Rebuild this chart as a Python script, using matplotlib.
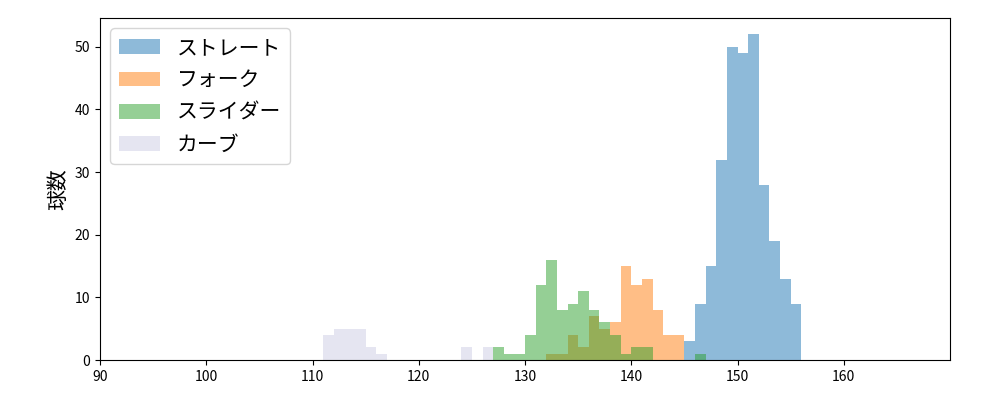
import matplotlib
matplotlib.use("Agg")
import matplotlib.pyplot as plt
import numpy as np

plt.rcParams['font.family'] = ['Noto Sans CJK JP', 'DejaVu Sans']

labels = ['ストレート', 'フォーク', 'スライダー', 'カーブ']
colors = ['#1f77b4', '#ff7f0e', '#2ca02c', '#cdcde5']

straight_bins = [145, 146, 147, 148, 149, 150, 151, 152, 153, 154, 155]
straight_counts = [3, 9, 15, 32, 50, 49, 52, 28, 19, 13, 9]

fork_bins = [132, 133, 134, 135, 136, 137, 138, 139, 140, 141, 142, 143, 144]
fork_counts = [1, 1, 4, 2, 7, 5, 6, 15, 12, 13, 8, 4, 4]

slider_bins = [127, 128, 129, 130, 131, 132, 133, 134, 135, 136, 137, 138, 139, 140, 141, 146]
slider_counts = [2, 1, 1, 4, 12, 16, 8, 9, 11, 8, 6, 4, 1, 2, 2, 1]

curve_bins = [111, 112, 113, 114, 115, 116, 124, 126]
curve_counts = [4, 5, 5, 5, 2, 1, 2, 2]

series = [(straight_bins, straight_counts), (fork_bins, fork_counts),
          (slider_bins, slider_counts), (curve_bins, curve_counts)]

fig = plt.figure(figsize=(10, 4), dpi=100)
ax = fig.add_axes([0.1, 0.1, 0.85, 0.855])
edges = np.arange(90, 171, 1)
for (b, c), lab, col in zip(series, labels, colors):
    alpha = 0.5 if col != '#cdcde5' else 0.5
    ax.hist(np.array(b) + 0.5, bins=edges, weights=c, color=col, alpha=alpha, label=lab)

ax.set_xlim(90, 170)
ax.set_ylim(0, 54.6)
ax.set_xticks(range(90, 170, 10))
ax.set_yticks(range(0, 51, 10))
ax.set_ylabel('球数', fontsize=15)
ax.tick_params(labelsize=10)
ax.legend(loc='upper left', fontsize=15)
fig.savefig('out.png')
